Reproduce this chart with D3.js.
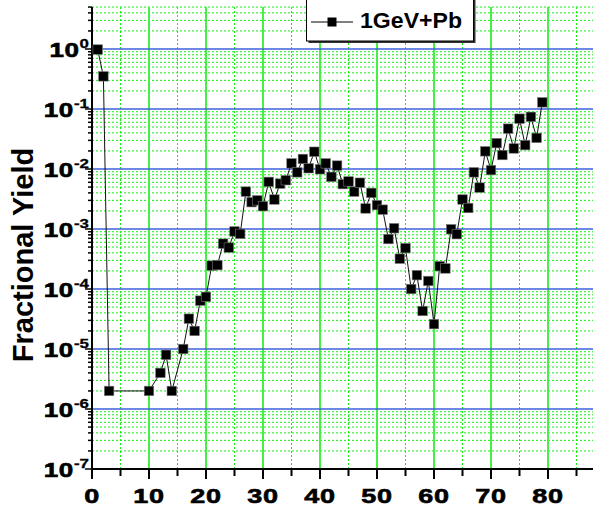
<!DOCTYPE html>
<html><head><meta charset="utf-8">
<script src="https://cdn.jsdelivr.net/npm/d3@7"></script>
<style>body{margin:0;background:#fff}svg{display:block}</style>
</head><body><svg id="c" width="593" height="508"></svg>
<script>
const xVals = [1,2,3,10,12,13,14,16,17,18,19,20,21,22,23,24,25,26,27,28,29,30,31,32,33,34,35,36,37,38,39,40,41,42,43,44,45,46,47,48,49,50,51,52,53,54,55,56,57,58,59,60,61,62,63,64,65,66,67,68,69,70,71,72,73,74,75,76,77,78,79];
const yVals = [0.98,0.35,2e-6,2e-6,4e-6,8e-6,2e-6,1e-5,3.2e-5,2e-5,6.4e-5,7.4e-5,2.45e-4,2.5e-4,5.7e-4,4.9e-4,9.1e-4,8.3e-4,4.2e-3,2.8e-3,3.0e-3,2.4e-3,6.1e-3,3.1e-3,5.7e-3,6.5e-3,1.24e-2,8.8e-3,1.47e-2,1.03e-2,1.94e-2,9.9e-3,1.24e-2,7.4e-3,1.14e-2,5.6e-3,6.2e-3,4.2e-3,5.9e-3,2.2e-3,4.0e-3,2.5e-3,2.1e-3,6.8e-4,1.03e-3,3.2e-4,4.8e-4,1.0e-4,1.7e-4,4.3e-5,1.36e-4,2.6e-5,2.4e-4,2.2e-4,9.9e-4,8.2e-4,3.1e-3,2.24e-3,8.8e-3,4.9e-3,1.97e-2,9.6e-3,2.7e-2,1.71e-2,4.7e-2,2.2e-2,6.9e-2,2.5e-2,7.4e-2,3.3e-2,0.129];
const xTicks = [0,10,20,30,40,50,60,70,80];
const yExps = [0,-1,-2,-3,-4,-5,-6,-7];
const seriesName = "1GeV+Pb";
const yTitle = "Fractional Yield";

const FONT = "Liberation Sans, Arial, sans-serif";
const svg = d3.select("#c");
const x = d3.scaleLinear().domain([0, 88]).range([92, 593.6]);
const y = d3.scaleLog().domain([1e-7, 5]).range([469, 7.06]);
const x0 = 92, yb = 469, yt = 7.06, xr = 593;

// minor horizontal grid
const minorY = [];
for (let d = -7; d <= 0; d++) for (let m = 2; m <= 9; m++) { const v = m * Math.pow(10, d); if (v <= 5) minorY.push(v); }
svg.append("g").selectAll("line").data(minorY).join("line")
  .attr("x1", x0).attr("x2", xr).attr("y1", d => y(d)).attr("y2", d => y(d))
  .attr("stroke", "#11ee11").attr("stroke-width", 1).attr("stroke-dasharray", "2,2");
// minor vertical grid
const minorX = d3.range(5, 89, 10);
svg.append("g").selectAll("line").data(minorX).join("line")
  .attr("x1", d => x(d)).attr("x2", d => x(d)).attr("y1", yt).attr("y2", yb)
  .attr("stroke", "#11ee11").attr("stroke-width", 1).attr("stroke-dasharray", "2,2");
// major vertical grid
svg.append("g").selectAll("line").data(xTicks.filter(d => d > 0)).join("line")
  .attr("x1", d => x(d)).attr("x2", d => x(d)).attr("y1", yt).attr("y2", yb)
  .attr("stroke", "#44f044").attr("stroke-width", 2);
// major horizontal grid
svg.append("g").selectAll("line").data(yExps.filter(e => e > -7)).join("line")
  .attr("x1", x0).attr("x2", xr).attr("y1", e => y(Math.pow(10, e))).attr("y2", e => y(Math.pow(10, e)))
  .attr("stroke", "#3f5fdd").attr("stroke-width", 1.6);

// axes
const xTickAll = d3.range(0, 89, 5);
svg.append("g").selectAll("line").data(xTickAll).join("line")
  .attr("x1", d => x(d)).attr("x2", d => x(d)).attr("y1", yb).attr("y2", d => yb + (d % 10 === 0 ? 10 : 7))
  .attr("stroke", "#000").attr("stroke-width", 2);
svg.append("line").attr("x1", x0 - 1).attr("x2", xr).attr("y1", yb).attr("y2", yb).attr("stroke", "#000").attr("stroke-width", 2);
svg.append("line").attr("x1", x0).attr("x2", x0).attr("y1", yt).attr("y2", yb + 1).attr("stroke", "#000").attr("stroke-width", 2);
// y ticks
const yTickVals = [];
for (let d = -7; d <= 0; d++) for (let m = 1; m <= 9; m++) { const v = m * Math.pow(10, d); if (v <= 5) yTickVals.push(v); }
svg.append("g").selectAll("line").data(yTickVals).join("line")
  .attr("x1", x0).attr("x2", d => x0 - (Math.abs(Math.log10(d) - Math.round(Math.log10(d))) < 1e-9 ? 7 : 4))
  .attr("y1", d => y(d)).attr("y2", d => y(d)).attr("stroke", "#000").attr("stroke-width", 1.5);

// x tick labels
svg.append("g").selectAll("text").data(xTicks).join("text")
  .attr("transform", d => `translate(${x(d)},503) scale(1.35,1)`).attr("text-anchor", "middle")
  .attr("font-family", FONT).attr("font-weight", "bold").attr("font-size", 20).attr("letter-spacing", 0.5)
  .attr("stroke", "#000").attr("stroke-width", 0.6)
  .text(d => d);
// y tick labels
const yl = svg.append("g").selectAll("text").data(yExps).join("text")
  .attr("transform", e => `translate(89,${y(Math.pow(10, e)) + 8}) scale(1.3,1)`).attr("text-anchor", "end")
  .attr("font-family", FONT).attr("font-weight", "bold").attr("font-size", 20)
  .attr("stroke", "#000").attr("stroke-width", 0.6);
yl.append("tspan").attr("letter-spacing", 0.5).text("10");
yl.append("tspan").attr("dy", -9).attr("font-size", 13).attr("stroke-width", 0.3).text(e => e);

// y title
svg.append("text").attr("transform", "translate(33,255) rotate(-90)").attr("text-anchor", "middle")
  .attr("font-family", FONT).attr("font-weight", "bold").attr("font-size", 29)
  .text(yTitle);

// data line + markers
const pts = xVals.map((v, i) => [v, yVals[i]]);
svg.append("path").datum(pts)
  .attr("d", d3.line().x(d => x(d[0])).y(d => y(d[1])))
  .attr("fill", "none").attr("stroke", "#111").attr("stroke-width", 1);
svg.append("g").selectAll("rect").data(pts).join("rect")
  .attr("x", d => x(d[0]) - 4.75).attr("y", d => y(d[1]) - 4.75).attr("width", 9.5).attr("height", 9.5)
  .attr("fill", "#000").attr("stroke", "#777").attr("stroke-width", 0.6);

// legend
const lg = svg.append("g");
lg.append("rect").attr("x", 308.5).attr("y", -3).attr("width", 167).attr("height", 46).attr("fill", "#333");
lg.append("rect").attr("x", 306.5).attr("y", -5).attr("width", 167).attr("height", 46).attr("fill", "#fff").attr("stroke", "#000").attr("stroke-width", 1);
lg.append("line").attr("x1", 311).attr("x2", 353).attr("y1", 22).attr("y2", 22).attr("stroke", "#000").attr("stroke-width", 1);
lg.append("rect").attr("x", 327.5).attr("y", 17.5).attr("width", 9).attr("height", 9).attr("fill", "#000");
lg.append("text").attr("transform", "translate(360,28) scale(1.05,1)").attr("font-family", FONT)
  .attr("font-weight", "bold").attr("font-size", 22).text(seriesName);
</script></body></html>
